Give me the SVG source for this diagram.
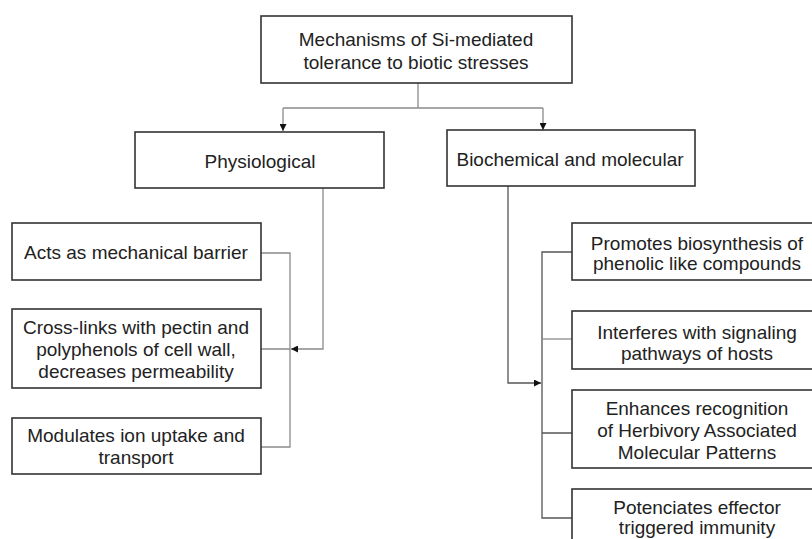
<svg xmlns="http://www.w3.org/2000/svg" width="812" height="539" viewBox="0 0 812 539">
<defs>
<marker id="arr" viewBox="0 0 10 10" refX="10" refY="5" markerWidth="7" markerHeight="7" markerUnits="userSpaceOnUse" orient="auto">
<path d="M0,0 L10,5 L0,10 z" fill="#111"/>
</marker>
</defs>
<style>
.box{fill:#fff;stroke:#333;stroke-width:1.6}
.t{font-family:"Liberation Sans",Arial,sans-serif;font-size:19px;fill:#222;text-anchor:middle}
.c{fill:none;stroke:#8a8a8a;stroke-width:1.3}
.d{fill:none;stroke:#555;stroke-width:1.3}
</style>
<rect width="812" height="539" fill="#fff"/>
<g id="connectors">
<path class="c" d="M418,83 V108 M283,108 H543"/>
<path class="c" d="M283,108 V131" marker-end="url(#arr)"/>
<path class="c" d="M543,108 V130" marker-end="url(#arr)"/>
<path class="c" d="M323,188 V349 H291" marker-end="url(#arr)"/>
<path class="c" d="M261,253 H290 V447 H261 M261,349 H290"/>
<path class="d" d="M508,186 V383 H541" marker-end="url(#arr)"/>
<path class="d" d="M572,252 H542 V518 H572 M542,433 H572"/>
<path class="c" d="M542,339 H572" stroke="#bbb"/>
</g>
<g id="root">
<rect class="box" x="261" y="16" width="311" height="67"/>
<text class="t" x="416" y="46">Mechanisms of Si-mediated</text>
<text class="t" x="416" y="69">tolerance to biotic stresses</text>
</g>
<g id="physiological">
<rect class="box" x="135" y="132" width="249" height="56"/>
<text class="t" x="260" y="168">Physiological</text>
</g>
<g id="biochemical">
<rect class="box" x="447" y="130" width="248" height="56"/>
<text class="t" x="570" y="166">Biochemical and molecular</text>
</g>
<g id="barrier">
<rect class="box" x="12" y="223" width="249" height="57"/>
<text class="t" x="136" y="259">Acts as mechanical barrier</text>
</g>
<g id="crosslinks">
<rect class="box" x="12" y="309" width="249" height="79"/>
<text class="t" x="136" y="334">Cross-links with pectin and</text>
<text class="t" x="136" y="356">polyphenols of cell wall,</text>
<text class="t" x="136" y="378">decreases permeability</text>
</g>
<g id="ion">
<rect class="box" x="12" y="418" width="249" height="56"/>
<text class="t" x="136" y="442">Modulates ion uptake and</text>
<text class="t" x="136" y="464">transport</text>
</g>
<g id="phenolic">
<rect class="box" x="572" y="223" width="250" height="57"/>
<text class="t" x="697" y="250">Promotes biosynthesis of</text>
<text class="t" x="697" y="270">phenolic like compounds</text>
</g>
<g id="signaling">
<rect class="box" x="572" y="311" width="250" height="58"/>
<text class="t" x="697" y="339">Interferes with signaling</text>
<text class="t" x="697" y="360">pathways of hosts</text>
</g>
<g id="hamp">
<rect class="box" x="572" y="390" width="250" height="78"/>
<text class="t" x="697" y="415">Enhances recognition</text>
<text class="t" x="697" y="437">of Herbivory Associated</text>
<text class="t" x="697" y="459">Molecular Patterns</text>
</g>
<g id="eti">
<rect class="box" x="572" y="489" width="250" height="60"/>
<text class="t" x="697" y="514">Potenciates effector</text>
<text class="t" x="697" y="534">triggered immunity</text>
</g>
</svg>
